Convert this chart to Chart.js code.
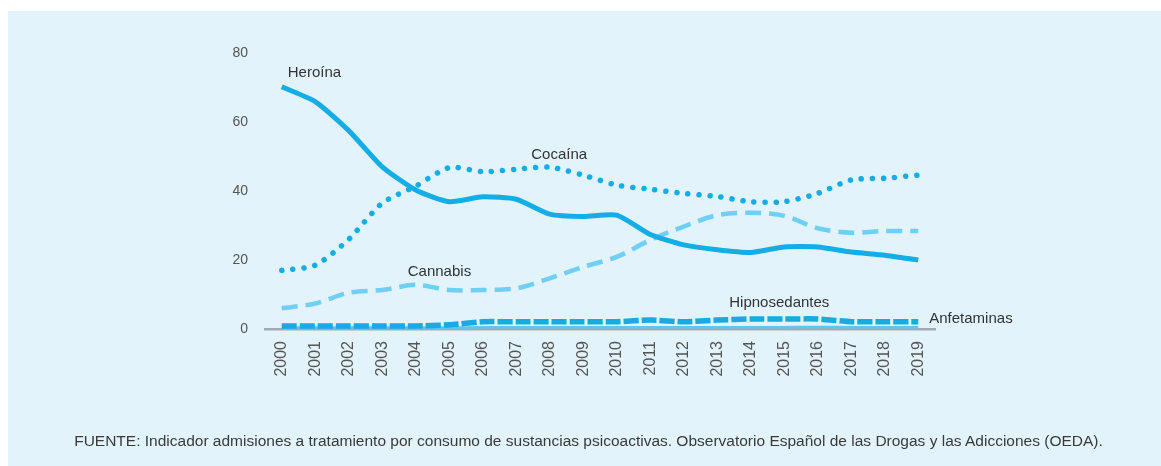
<!DOCTYPE html>
<html>
<head>
<meta charset="utf-8">
<script src="https://cdn.jsdelivr.net/npm/chart.js@4"></script>
<style>
    html, body { margin: 0; padding: 0; background: #ffffff; }
    body { width: 1161px; height: 466px; position: relative; overflow: hidden; font-family: "Liberation Sans", Arial, sans-serif; }
    .panel { position: absolute; left: 8px; top: 11px; right: 0; bottom: 0; background: #e2f3fb; }
    #chart { position: absolute; left: 0; top: 0; }
    .source { position: absolute; left: 8px; width: 1161px; top: 432px; text-align: center; font-size: 15.5px; color: #3a3a3a; }
</style>
</head>
<body>
<div class="panel"></div>
<canvas id="chart" width="1161" height="466"></canvas>
<div class="source">FUENTE: Indicador admisiones a tratamiento por consumo de sustancias psicoactivas. Observatorio Español de las Drogas y las Adicciones (OEDA).</div>
<script>
// Years on the x axis
const years = ['2000', '2001', '2002', '2003', '2004', '2005', '2006', '2007', '2008', '2009',
               '2010', '2011', '2012', '2013', '2014', '2015', '2016', '2017', '2018', '2019'];

// Series
const heroina = [70.2, 65.9, 57.5, 47.0, 40.3, 36.9, 38.3, 37.6, 33.3, 32.6, 33.0, 27.4, 24.4, 23.0, 22.2, 23.8, 23.8, 22.3, 21.4, 20.0];
const cocaina = [17.0, 18.5, 26.0, 36.5, 41.4, 46.8, 45.6, 46.3, 46.9, 44.6, 41.7, 40.5, 39.3, 38.4, 36.9, 36.9, 39.3, 43.2, 43.7, 44.6];
const cannabis = [6.0, 7.4, 10.5, 11.3, 12.8, 11.3, 11.3, 11.8, 14.7, 18.0, 20.9, 25.8, 29.7, 33.0, 33.7, 32.8, 29.2, 27.9, 28.4, 28.4];
const hipnosedantes = [0.9, 0.9, 0.9, 0.9, 0.9, 1.2, 2.1, 2.1, 2.1, 2.1, 2.1, 2.6, 2.1, 2.6, 2.9, 2.9, 2.9, 2.1, 2.1, 2.1];
const anfetaminas = [0.4, 0.4, 0.4, 0.4, 0.4, 0.4, 0.5, 0.5, 0.5, 0.5, 0.5, 0.5, 0.5, 0.5, 0.5, 0.5, 0.6, 0.5, 0.5, 0.5];

const yTicks = [0, 20, 40, 60, 80];

// Series names drawn next to the lines
const seriesLabels = ['Heroína', 'Cocaína', 'Cannabis', 'Hipnosedantes', 'Anfetaminas'];

const lineLabels = {
    id: 'lineLabels',
    afterDatasetsDraw(chart) {
        const ctx = chart.ctx;
        const x = chart.scales.x;
        const y = chart.scales.y;
        // [x index, pixel shift, y value]
        const spots = [[0, 6, 74.2], [7, 15, 50.4], [4, -8, 16.5], [13, 12, 7.5], [19, 11, 3.0]];
        ctx.save();
        ctx.font = '15px "Liberation Sans", Arial, sans-serif';
        ctx.fillStyle = '#333333';
        ctx.textBaseline = 'middle';
        ctx.textAlign = 'left';
        seriesLabels.forEach((name, i) => {
            const s = spots[i];
            ctx.fillText(name, x.getPixelForValue(s[0]) + s[1], y.getPixelForValue(s[2]));
        });
        ctx.restore();
    }
};

new Chart(document.getElementById('chart').getContext('2d'), {
    type: 'line',
    data: {
        labels: years,
        datasets: [
            {
                label: 'Heroína',
                data: heroina,
                borderColor: '#14ade6',
                borderWidth: 5,
                tension: 0.2,
                order: 1
            },
            {
                label: 'Cocaína',
                data: cocaina,
                borderColor: '#14ade6',
                borderWidth: 5.5,
                borderDash: [0.1, 11],
                borderCapStyle: 'round',
                tension: 0.25,
                order: 2
            },
            {
                label: 'Cannabis',
                data: cannabis,
                borderColor: '#6fcff4',
                borderWidth: 4.5,
                borderDash: [16, 8],
                tension: 0.3,
                order: 3
            },
            {
                label: 'Hipnosedantes',
                data: hipnosedantes,
                borderColor: '#1aa9e0',
                borderWidth: 5.5,
                borderDash: [15, 3],
                tension: 0.2,
                order: 4
            },
            {
                label: 'Anfetaminas',
                data: anfetaminas,
                borderColor: '#5cc6ef',
                borderWidth: 2.5,
                tension: 0.2,
                order: 5
            }
        ]
    },
    options: {
        responsive: false,
        animation: false,
        events: [],
        elements: {
            point: { radius: 0 }
        },
        layout: {
            padding: { top: 53, right: 226, bottom: 0, left: 0 }
        },
        scales: {
            x: {
                offset: true,
                grid: { display: false, drawTicks: false },
                border: { display: true, color: '#a3abb0', width: 2.5 },
                ticks: {
                    color: '#555555',
                    font: { size: 16, family: '"Liberation Sans", Arial, sans-serif' },
                    minRotation: 90,
                    maxRotation: 90,
                    autoSkip: false,
                    padding: 12
                },
                afterFit: function(scale) { scale.height = 137; }
            },
            y: {
                min: 0,
                max: 80,
                afterBuildTicks: function(scale) { scale.ticks = yTicks.map(v => ({ value: v })); },
                grid: { display: false, drawTicks: false },
                border: { display: false },
                ticks: {
                    color: '#555555',
                    font: { size: 14, family: '"Liberation Sans", Arial, sans-serif' },
                    padding: 17
                },
                afterFit: function(scale) { scale.width = 265; }
            }
        },
        plugins: {
            legend: { display: false },
            tooltip: { enabled: false }
        }
    },
    plugins: [lineLabels]
});
</script>
</body>
</html>
